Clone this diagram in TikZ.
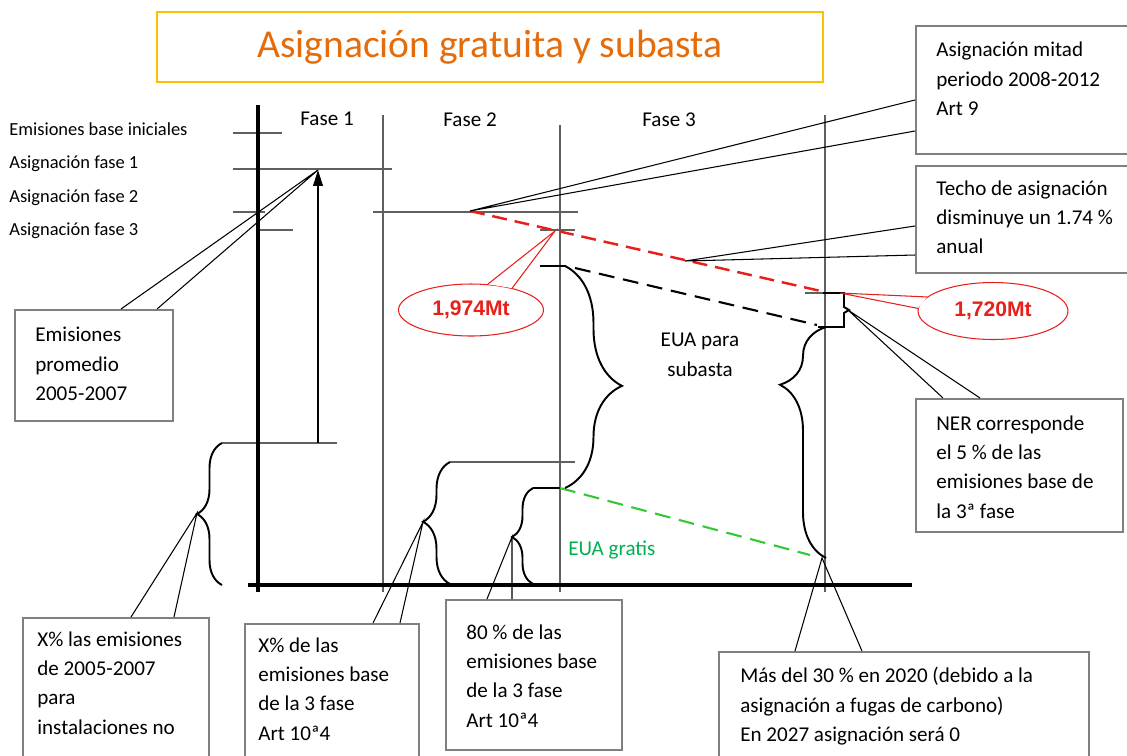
\documentclass[tikz,border=0pt]{standalone}
\usepackage{fontspec}
\setmainfont{Carlito}
\newfontfamily\mtfont{Liberation Sans}
\usetikzlibrary{arrows.meta, calc, decorations.pathreplacing, shapes.geometric}

\definecolor{titleorange}{RGB}{228,108,10}
\definecolor{titlegold}{RGB}{255,192,0}
\definecolor{notegray}{RGB}{128,128,128}
\definecolor{guidegray}{RGB}{95,95,95}
\definecolor{ceilred}{RGB}{232,32,28}
\definecolor{freegreen}{RGB}{52,200,52}
\definecolor{textgreen}{RGB}{0,176,80}

\newcommand\notefont{\fontsize{12}{16.7}\selectfont}
\newcommand\sidefont{\fontsize{10.5}{12}\selectfont}

\begin{document}
\begin{tikzpicture}[x=0.02cm, y=-0.02cm,
    guide/.style={draw=guidegray, line width=0.6pt},
    axisline/.style={line width=2.2pt},
    note/.style={draw=notegray, line width=0.9pt, anchor=north west, inner sep=0pt},
    notetext/.style={anchor=north west, align=left, inner sep=0pt, font=\notefont},
    sidelabel/.style={anchor=base west, inner sep=0pt, font=\sidefont},
    pointer/.style={line width=0.6pt},
    curly/.style={line width=1.1pt, decorate},
    redoval/.style={ellipse, draw=ceilred, line width=0.6pt, fill=white, text=ceilred,
                    font=\mtfont\bfseries\fontsize{12}{14}\selectfont, inner sep=0pt}]
  \useasboundingbox (0,0) rectangle (1127,755);

  % title
  \node[draw=titlegold, line width=1pt, minimum width=13.32cm, minimum height=1.4cm,
        text=titleorange, font=\fontsize{22.5}{26}\selectfont] (title) at (490,47)
        {Asignación gratuita y subasta};

  % levels on the left
  \node[sidelabel] (l0) at (9,135) {Emisiones base iniciales};
  \node[sidelabel] (l1) at (9,168) {Asignación fase 1};
  \node[sidelabel] (l2) at (9,202) {Asignación fase 2};
  \node[sidelabel] (l3) at (9,235) {Asignación fase 3};

  \node[font=\notefont, anchor=base] (f1) at (327,125) {Fase 1};
  \node[font=\notefont, anchor=base] (f2) at (470,126) {Fase 2};
  \node[font=\notefont, anchor=base] (f3) at (669,126) {Fase 3};

  % guide lines
  \draw[guide] (233,133) -- (282,133);
  \draw[guide] (233,169) -- (392,169);
  \draw[guide] (233,212) -- (265,212);
  \draw[guide] (258,230) -- (293,230);
  \draw[guide] (373,212) -- (578,212);
  \draw[guide] (540,230) -- (575,230);
  \draw[guide] (805,293) -- (840,293);
  \draw[guide] (222,443) -- (337,443);
  \draw[guide] (450,462) -- (575,462);
  \draw[guide] (383,115) -- (383,592);
  \draw[guide] (560,125) -- (560,592);
  \draw[guide] (825,115) -- (825,592);

  % axes
  \draw[axisline] (258,105) -- (258,592);
  \draw[axisline] (248,585) -- (912,585);

  % key points
  \coordinate (fase1top) at (318,170);
  \coordinate (p2) at (470,211);
  \coordinate (ceil) at (685,261);
  \coordinate (p1974) at (555,231);
  \coordinate (p1720) at (840,293);
  \coordinate (nerpt) at (848,310);
  \coordinate (tip1) at (197,513);
  \coordinate (tip2) at (423,522);
  \coordinate (tip3) at (512,537);
  \coordinate (tip4) at (822,558);

  \draw[line width=0.8pt, -{Triangle[length=9pt, width=5.5pt]}] (318,443) -- (fase1top);

  % ceiling lines
  \draw[ceilred, line width=1.4pt, dash pattern=on 8.5pt off 4.5pt] (p2) -- (825,292);
  \draw[line width=1.2pt, dash pattern=on 9pt off 5pt] (575,268) -- (817,325);
  \draw[freegreen, line width=1.2pt, dash pattern=on 9pt off 5pt] (560,488) -- (810,555);

  % braces
  \draw[curly, decoration={brace, amplitude=0.5cm, aspect=0.5}] (222,585) -- (222,443);
  \draw[curly, decoration={brace, amplitude=0.54cm, aspect=0.51}] (450,584) -- (450,462);
  \draw[curly, decoration={brace, amplitude=0.42cm, aspect=0.49}] (533,584) -- (533,488);
  \draw[line width=1.1pt] (533,488) -- (560,488);
  \draw[line width=1.1pt] (540,266) -- (566,266);
  \draw[curly, decoration={brace, amplitude=1.14cm, aspect=0.54}] (565,266) -- (565,488);
  \draw[curly, decoration={brace, amplitude=0.92cm, aspect=0.75}] (826,558) -- (826,327);
  \draw[line width=1.1pt] (823,293) -- (844,293) -- (844,307) -- (849,310)
        -- (844,313) -- (844,327) -- (818,327);

  \node[font=\notefont, align=center, anchor=base] (subasta) at (700,376) {EUA para\\subasta};
  \node[font=\notefont, text=textgreen, anchor=base west, inner sep=0pt] (gratis) at (568,555) {EUA gratis};

  % red callouts
  \node[redoval, minimum width=2.9cm, minimum height=1.04cm] (mt1) at (471,310) {1,974Mt};
  \fill[white] (mt1.57) -- (p1974) -- (mt1.28) -- cycle;
  \draw[ceilred, line width=0.6pt] (mt1.57) -- (p1974) -- (mt1.28);
  \node[redoval, minimum width=3cm, minimum height=1.14cm] (mt2) at (993,311) {1,720Mt};
  \fill[white] (mt2.168) -- (p1720) -- (mt2.178) -- cycle;
  \draw[ceilred, line width=0.6pt] (mt2.168) -- (p1720) -- (mt2.178);

  % boxes
  \node[note, minimum width=4.4cm, minimum height=2.56cm] (mitad) at (915,25) {};
  \node[notetext] (mitad-txt) at (936,42) {Asignación mitad\\periodo 2008-2012\\Art 9};
  \node[note, minimum width=4.4cm, minimum height=2.14cm] (techo) at (915,165) {};
  \node[notetext] (techo-txt) at (936,180) {Techo de asignación\\disminuye un 1.74 \%\\anual};
  \node[note, minimum width=3.16cm, minimum height=2.22cm] (promedio) at (14,309) {};
  \node[notetext] (promedio-txt) at (35,327) {Emisiones\\promedio\\2005-2007};
  \node[note, minimum width=4.14cm, minimum height=2.66cm] (ner) at (915,398) {};
  \node[notetext] (ner-txt) at (936,415) {NER corresponde\\el 5 \% de las\\emisiones base de\\la 3ª fase};
  \node[note, minimum width=3.72cm, minimum height=3cm] (box1) at (22,617) {};
  \node[notetext] (box1-txt) at (37,631) {X\% las emisiones\\de 2005-2007\\para\\instalaciones no};
  \node[note, minimum width=3.48cm, minimum height=3cm] (box2) at (244,623) {};
  \node[notetext] (box2-txt) at (258,637) {X\% de las\\emisiones base\\de la 3 fase\\Art 10ª4};
  \node[note, minimum width=3.52cm, minimum height=3cm] (box3) at (445,599) {};
  \node[notetext] (box3-txt) at (466,624) {80 \% de las\\emisiones base\\de la 3 fase\\Art 10ª4};
  \node[note, minimum width=7.4cm, minimum height=3cm] (box4) at (718,651) {};
  \node[notetext] (box4-txt) at (740,667) {Más del 30 \% en 2020 (debido a la\\asignación a fugas de carbono)\\En 2027 asignación será 0};

  % callout lines
  \draw[pointer] ($(mitad.north west)+(0,75)$) -- (p2) -- ($(mitad.north west)+(0,106)$);
  \draw[pointer] ($(techo.north west)+(0,61)$) -- (ceil) -- ($(techo.north west)+(0,90)$);
  \draw[pointer] ($(promedio.north west)+(107,0)$) -- (fase1top) -- ($(promedio.north west)+(143,0)$);
  \draw[pointer] ($(ner.north west)+(28,0)$) -- (nerpt) -- ($(ner.north west)+(65,0)$);
  \draw[pointer] ($(box1.north west)+(109,0)$) -- (tip1) -- ($(box1.north west)+(152,0)$);
  \draw[pointer] ($(box2.north west)+(129,0)$) -- (tip2) -- ($(box2.north west)+(156,0)$);
  \draw[pointer] ($(box3.north west)+(42,0)$) -- (tip3) -- ($(box3.north west)+(67,0)$);
  \draw[pointer] ($(box4.north west)+(77,0)$) -- (tip4) -- ($(box4.north west)+(144,0)$);
\end{tikzpicture}
\end{document}
